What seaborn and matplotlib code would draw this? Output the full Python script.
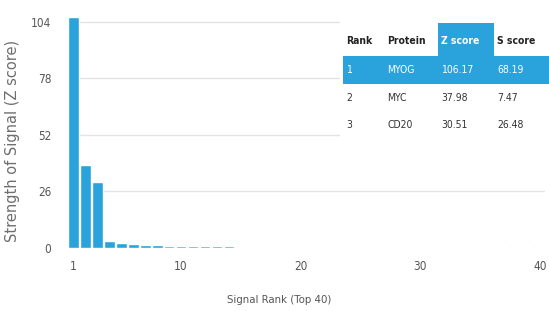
import numpy as np
import matplotlib
matplotlib.use("Agg")
import matplotlib.pyplot as plt
import seaborn as sns
from matplotlib.patches import Rectangle

# Data
ranks = list(range(1, 41))
z_scores = [106.17, 37.98, 30.51, 3.2, 2.3, 1.8, 1.5, 1.3, 1.1, 1.0,
            0.9, 0.8, 0.75, 0.7, 0.65, 0.6, 0.6, 0.55, 0.55, 0.5,
            0.5, 0.5, 0.45, 0.45, 0.45, 0.4, 0.4, 0.4, 0.4, 0.4,
            0.35, 0.35, 0.35, 0.35, 0.35, 0.3, 0.3, 0.3, 0.3, 0.3]
y_ticks = [0, 26, 52, 78, 104]
x_ticks = [1, 10, 20, 30, 40]

table_header = ["Rank", "Protein", "Z score", "S score"]
table_rank = ["1", "2", "3"]
table_protein = ["MYOG", "MYC", "CD20"]
table_z = ["106.17", "37.98", "30.51"]
table_s = ["68.19", "7.47", "26.48"]

BLUE = "#2aa3dc"
TEXT = "#555555"

sns.set_style("white")
plt.rcParams["font.family"] = ["DejaVu Sans"]
plt.rcParams["font.stretch"] = "condensed"

fig = plt.figure(figsize=(5.49, 3.11), dpi=100)
W, H = 549, 311
ax = fig.add_axes([68 / W, 1 - 248 / H, (545 - 68) / W, (248 - 15) / H])

sns.barplot(x=ranks, y=z_scores, native_scale=True, width=0.9,
            color=BLUE, saturation=1, ax=ax, zorder=3)

ax.set_xlim(0.55, 40.42)
ax.set_ylim(0, 107.2)
ax.set_yticks(y_ticks)
ax.set_xticks(x_ticks)
ax.tick_params(axis="y", labelsize=8.5, colors=TEXT, length=0, pad=12)
ax.tick_params(axis="x", labelsize=8.5, colors=TEXT, length=0, pad=9)
ax.yaxis.grid(True, color="#e3e3e3", linewidth=1, zorder=0)
ax.set_axisbelow(True)
for s in ax.spines.values():
    s.set_visible(False)

ax.set_xlabel("Signal Rank (Top 40)", fontsize=8.2, color=TEXT)
ax.set_ylabel("Strength of Signal (Z score)", fontsize=10.5, color="#6e6e6e",
              fontstretch="normal")
ax.xaxis.set_label_coords((279 - 68) / 477, -(295 - 248) / 233)
ax.yaxis.set_label_coords((20 - 68) / 477, 0.46)

# Table overlay (figure pixel coordinates)
def fx(px):
    return px / W

def fy(py):
    return 1 - py / H

col_x = [346, 387, 441, 497]
fig.patches.append(Rectangle((fx(340), fy(140)), fx(549 - 340), (140 - 20) / H,
                             transform=fig.transFigure, facecolor="white",
                             edgecolor="none", zorder=4))
fig.patches.append(Rectangle((fx(438), fy(56)), fx(494 - 438), (56 - 23) / H,
                             transform=fig.transFigure, facecolor=BLUE,
                             edgecolor="none", zorder=5))
fig.patches.append(Rectangle((fx(343), fy(84)), fx(549 - 343), (84 - 56) / H,
                             transform=fig.transFigure, facecolor=BLUE,
                             edgecolor="none", zorder=5))

for i, h in enumerate(table_header):
    c = "white" if h == "Z score" else "#222222"
    fig.text(fx(col_x[i]), fy(41), h, fontsize=7.5, fontweight="bold",
             color=c, va="center", ha="left", zorder=6)

row_y = [70, 98, 125]
for r in range(3):
    c = "white" if r == 0 else "#333333"
    for i, val in enumerate([table_rank[r], table_protein[r], table_z[r], table_s[r]]):
        fig.text(fx(col_x[i]), fy(row_y[r]), val, fontsize=7.5,
                 color=c, va="center", ha="left", zorder=6)

fig.savefig("out.png", dpi=100)
